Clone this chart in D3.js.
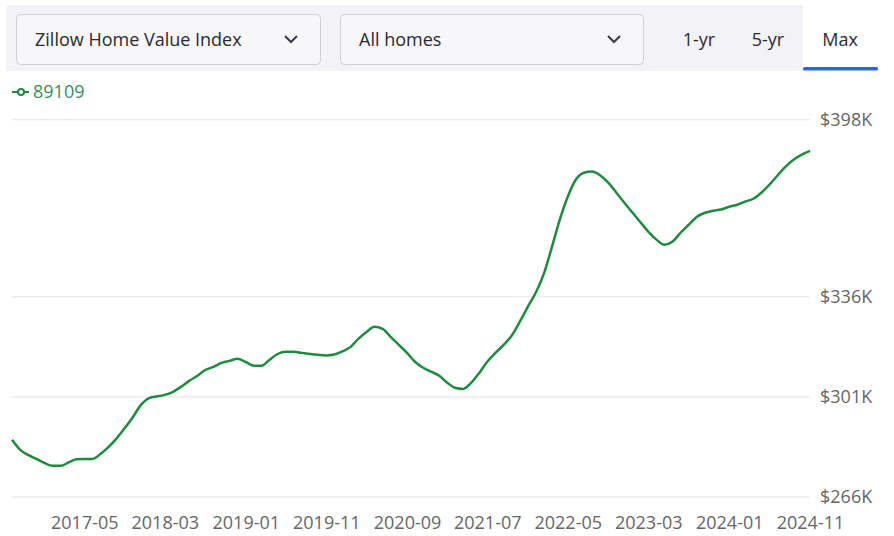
<!DOCTYPE html>
<html lang="en">
<head>
    <meta charset="UTF-8">
    <style>
        body {
            margin: 0;
            background: #fff;
            font-family: "Open Sans", "Noto Sans", sans-serif;
        }
        .grid line {
            stroke: #ececec;
            stroke-width: 1.5px;
        }
        .axis text {
            font: 18px "Open Sans", sans-serif;
            fill: #666;
        }
        .axis path, .axis line {
            display: none;
        }
    </style>
    <script src="https://d3js.org/d3.v7.min.js"></script>
</head>
<body>
    <svg width="894" height="536"></svg>
</body>

<script>
    // monthly ZHVI for zip 89109, in thousands of dollars, starting 2016-08
    var startMonth = "2016-08";
    var values = [
        286.0, 282.5, 280.7, 279.3, 277.9, 276.9, 276.9, 278.0, 279.2, 279.3,
        279.3, 281.0, 283.5, 286.6, 290.1, 294.0, 298.2, 300.6, 301.2, 301.7,
        302.8, 304.5, 306.6, 308.3, 310.4, 311.5, 312.9, 313.6, 314.3, 313.2,
        311.9, 311.9, 314.0, 316.0, 316.8, 316.8, 316.4, 316.0, 315.7, 315.5,
        315.8, 316.9, 318.5, 321.3, 323.7, 325.5, 324.8, 322.0, 319.2, 316.4,
        313.3, 311.2, 309.8, 308.4, 305.9, 304.2, 303.8, 305.9, 309.4, 313.3,
        316.4, 319.2, 322.4, 327.3, 332.5, 337.6, 344.4, 353.0, 363.0, 371.0,
        377.0, 379.4, 379.8, 378.4, 375.9, 372.4, 368.9, 365.4, 361.9, 358.8,
        356.0, 354.2, 355.3, 358.4, 361.2, 364.0, 365.4, 366.1, 366.5, 367.5,
        368.2, 369.3, 370.3, 372.4, 375.2, 378.4, 381.5, 384.0, 385.7, 387.0
    ];
    var xTickLabels = ["2017-05", "2018-03", "2019-01", "2019-11", "2020-09",
                       "2021-07", "2022-05", "2023-03", "2024-01", "2024-11"];
    var yTickValues = [266, 301, 336, 398];
    var seriesName = "89109";
    var selectorLabels = ["Zillow Home Value Index", "All homes"];
    var rangeTabs = ["1-yr", "5-yr", "Max"];

    var parseMonth = d3.timeParse("%Y-%m");
    var start = parseMonth(startMonth);
    var data = values.map(function(v, i) {
        return { date: d3.timeMonth.offset(start, i), value: v };
    });

    var svg = d3.select("svg");
    var green = "#1d8c3e";

    // top control bar
    var bar = svg.append("g");
    bar.append("rect").attr("x", 6).attr("y", 5).attr("width", 872).attr("height", 66)
        .attr("fill", "#f2f2f7");

    var boxes = [{ x: 16, w: 304 }, { x: 340, w: 303 }];
    boxes.forEach(function(b, i) {
        bar.append("rect").attr("x", b.x + 0.5).attr("y", 14.5).attr("width", b.w).attr("height", 50)
            .attr("rx", 4).attr("fill", "#f7f7fa").attr("stroke", "#cfcfd6");
        bar.append("text").attr("x", b.x + 19).attr("y", 46)
            .attr("font-size", 18).attr("fill", "#2a2a33")
            .text(selectorLabels[i]);
        var cx = b.x + b.w - 29;
        bar.append("path")
            .attr("d", "M" + (cx - 6) + ",36 L" + cx + ",42 L" + (cx + 6) + ",36")
            .attr("fill", "none").attr("stroke", "#3a3a44").attr("stroke-width", 2);
    });

    bar.append("rect").attr("x", 803).attr("y", 5).attr("width", 75).attr("height", 66)
        .attr("fill", "#fff");
    bar.append("rect").attr("x", 803).attr("y", 67).attr("width", 75).attr("height", 3.5)
        .attr("rx", 1.5).attr("fill", "#2a66e0");

    var tabX = [699, 768, 840];
    rangeTabs.forEach(function(t, i) {
        bar.append("text").attr("x", tabX[i]).attr("y", 46)
            .attr("text-anchor", "middle").attr("font-size", 18).attr("fill", "#2a2a33")
            .text(t);
    });

    // legend
    var legend = svg.append("g");
    legend.append("line").attr("x1", 12).attr("x2", 29).attr("y1", 92).attr("y2", 92)
        .attr("stroke", green).attr("stroke-width", 2);
    legend.append("circle").attr("cx", 21).attr("cy", 92).attr("r", 3)
        .attr("fill", "#fff").attr("stroke", green).attr("stroke-width", 2);
    legend.append("text").attr("x", 33).attr("y", 98)
        .attr("font-size", 18).attr("fill", "#3a8f5c")
        .text(seriesName);

    // scales
    var x = d3.scaleTime()
        .domain([data[0].date, data[data.length - 1].date])
        .range([12, 810]);
    var y = d3.scaleLinear()
        .domain([266, 398])
        .range([497, 119.5]);

    svg.append("g").attr("class", "grid")
        .selectAll("line")
        .data(yTickValues).enter()
        .append("line")
        .attr("x1", 12).attr("x2", 810)
        .attr("y1", function(d) { return y(d); })
        .attr("y2", function(d) { return y(d); });

    var yAxis = d3.axisRight(y)
        .tickValues(yTickValues)
        .tickSize(0)
        .tickPadding(0)
        .tickFormat(function(d) { return "$" + d + "K"; });
    svg.append("g").attr("class", "axis")
        .attr("transform", "translate(820,0)")
        .call(yAxis);

    var xAxis = d3.axisBottom(x)
        .tickValues(xTickLabels.map(parseMonth))
        .tickSize(0)
        .tickPadding(0)
        .tickFormat(d3.timeFormat("%Y-%m"));
    svg.append("g").attr("class", "axis")
        .attr("transform", "translate(0,516)")
        .call(xAxis);

    var line = d3.line()
        .x(function(d) { return x(d.date); })
        .y(function(d) { return y(d.value); })
        .curve(d3.curveMonotoneX);

    svg.append("path")
        .datum(data)
        .attr("fill", "none")
        .attr("stroke", green)
        .attr("stroke-width", 2.5)
        .attr("stroke-linejoin", "round")
        .attr("d", line);
</script>
</html>
